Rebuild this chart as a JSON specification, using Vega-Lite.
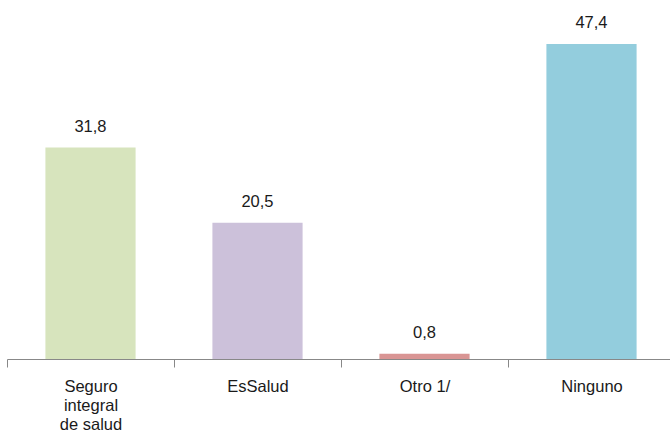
{
  "$schema": "https://vega.github.io/schema/vega-lite/v6.json",
  "width": 663,
  "height": 359,
  "autosize": {"type": "none"},
  "padding": {"left": 7, "top": 0, "right": 0, "bottom": 82},
  "background": "white",
  "config": {
    "view": {"stroke": null},
    "locale": {"number": {"decimal": ",", "thousands": ".", "grouping": [3], "currency": ["", " €"]}},
    "font": "Liberation Sans"
  },
  "data": {
    "values": [
      {"categoria": "Seguro integral de salud", "valor": 31.8, "color": "#d7e4bd"},
      {"categoria": "EsSalud", "valor": 20.5, "color": "#ccc1da"},
      {"categoria": "Otro 1/", "valor": 0.8, "color": "#d99594"},
      {"categoria": "Ninguno", "valor": 47.4, "color": "#93cddd"}
    ]
  },
  "encoding": {
    "x": {
      "field": "categoria",
      "type": "nominal",
      "sort": null,
      "scale": {"paddingInner": 0, "paddingOuter": 0, "range": [0, 668]},
      "axis": {
        "title": null,
        "labelAngle": 0,
        "tickBand": "extent",
        "tickSize": 8,
        "tickColor": "#888888",
        "domainColor": "#888888",
        "labelFontSize": 16.5,
        "labelColor": "#1a1a1a",
        "labelPadding": 11,
        "labelBaseline": "top",
        "labelLineHeight": 19,
        "labelExpr": "datum.value == 'Seguro integral de salud' ? ['Seguro', 'integral', 'de salud'] : datum.value"
      }
    },
    "y": {
      "field": "valor",
      "type": "quantitative",
      "scale": {"domain": [0, 54]},
      "axis": null
    }
  },
  "layer": [
    {
      "mark": {"type": "bar", "width": {"band": 0.54}},
      "encoding": {
        "color": {"field": "color", "type": "nominal", "scale": null}
      }
    },
    {
      "mark": {"type": "text", "baseline": "alphabetic", "dy": -16, "fontSize": 16.5, "color": "#1a1a1a"},
      "encoding": {
        "text": {"field": "valor", "type": "quantitative", "format": ".1f"}
      }
    }
  ]
}
